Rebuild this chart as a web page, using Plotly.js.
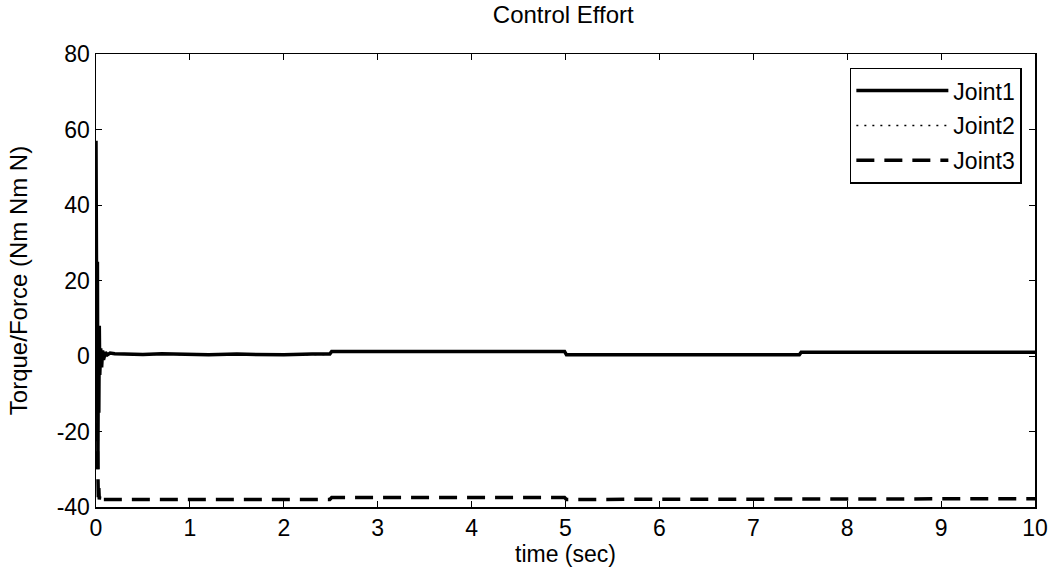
<!DOCTYPE html>
<html>
<head>
<meta charset="utf-8">
<script src="https://cdn.plot.ly/plotly-3.0.1.min.js"></script>
<style>html,body{margin:0;padding:0;background:#fff;}#chart{width:1049px;height:578px;}</style>
</head>
<body>
<div id="chart"></div>
<script>
const time = [0, 0.005, 0.01, 0.015, 0.02, 0.025, 0.03, 0.035, 0.04, 0.05, 0.06, 0.07, 0.08, 0.1, 0.12, 0.15, 0.2, 0.3, 0.5, 0.7, 1.0, 1.2, 1.5, 1.8, 2.0, 2.3, 2.49, 2.51, 3.0, 3.5, 4.0, 4.5, 4.99, 5.01, 5.5, 6.0, 6.5, 7.0, 7.49, 7.51, 8.0, 8.5, 9.0, 9.5, 10.0];
const joint1 = [57, 20, -8, 25, -30, 5, -15, 8, -5, 2, -3, 1.5, -1, 1, 0.3, 0.8, 0.6, 0.5, 0.4, 0.6, 0.5, 0.3, 0.5, 0.4, 0.3, 0.5, 0.5, 1.2, 1.2, 1.1, 1.2, 1.2, 1.2, 0.3, 0.3, 0.2, 0.3, 0.3, 0.3, 1.0, 1.0, 1.0, 1.0, 1.0, 1.0];
const joint2 = [0, -10, 5, -8, 3, -4, 2, -1, 1, 0.5, -0.5, 0.8, 0, 0.6, 0.2, 0.6, 0.5, 0.4, 0.3, 0.5, 0.4, 0.2, 0.4, 0.3, 0.2, 0.4, 0.4, 1.1, 1.1, 1.0, 1.1, 1.1, 1.1, 0.2, 0.2, 0.1, 0.2, 0.2, 0.2, 0.9, 0.9, 0.9, 0.9, 0.9, 0.9];
const joint3 = [-3, -10, -20, -33, -28, -38, -35, -38, -37, -38, -37.5, -38, -38, -38, -38, -38, -38, -38, -38, -38, -38, -38, -38, -38, -38, -38, -38, -37.5, -37.5, -37.5, -37.5, -37.5, -37.5, -38, -38, -38, -38, -38, -38, -37.8, -37.8, -37.8, -37.8, -37.8, -37.8];
const seriesNames = ['Joint1', 'Joint2', 'Joint3'];
const xTicks = [0, 1, 2, 3, 4, 5, 6, 7, 8, 9, 10];
const yTicks = [-40, -20, 0, 20, 40, 60, 80];

const fnt = {family: 'Liberation Sans, Arial, sans-serif', size: 23, color: '#000'};
const traces = [
  {x: time, y: joint1, name: seriesNames[0], legendgroup: 'a', mode: 'lines', line: {color: '#000', width: 3.5}},
  {x: time, y: joint2, name: seriesNames[1], legendgroup: 'b', mode: 'lines', line: {color: '#000', width: 1.5, dash: '2px,6px'}},
  {x: time, y: joint3, name: seriesNames[2], legendgroup: 'c', mode: 'lines', line: {color: '#000', width: 3.5, dash: '18px,10px'}}
];
const axisCommon = {
  showgrid: false, zeroline: false, showline: true, linecolor: '#000', linewidth: 1.5,
  mirror: 'ticks', ticks: 'inside', ticklen: 6, tickwidth: 1, tickcolor: '#000',
  tickfont: fnt
};
const layout = {
  width: 1049, height: 578,
  margin: {l: 96, r: 14, t: 54, b: 71},
  paper_bgcolor: '#fff', plot_bgcolor: '#fff',
  font: fnt,
  title: {text: 'Control Effort', font: Object.assign({}, fnt, {size: 24}), x: 0.537, xanchor: 'center', y: 0.99, yanchor: 'top'},
  xaxis: Object.assign({}, axisCommon, {range: [0, 10], tickvals: xTicks, ticktext: xTicks.map(String),
    title: {text: 'time (sec)', font: fnt, standoff: 4}}),
  yaxis: Object.assign({}, axisCommon, {range: [-40, 80], tickvals: yTicks, ticktext: yTicks.map(String),
    title: {text: 'Torque/Force (Nm Nm N)', font: Object.assign({}, fnt, {size: 24}), standoff: 22}}),
  showlegend: true,
  legend: {x: 0.986, xanchor: 'right', y: 0.97, yanchor: 'top', bgcolor: '#fff', bordercolor: '#000', borderwidth: 1.5,
    font: fnt, itemwidth: 92, tracegroupgap: 2, traceorder: 'grouped'}
};
Plotly.newPlot('chart', traces, layout, {displayModeBar: false, staticPlot: true});
</script>
</body>
</html>
